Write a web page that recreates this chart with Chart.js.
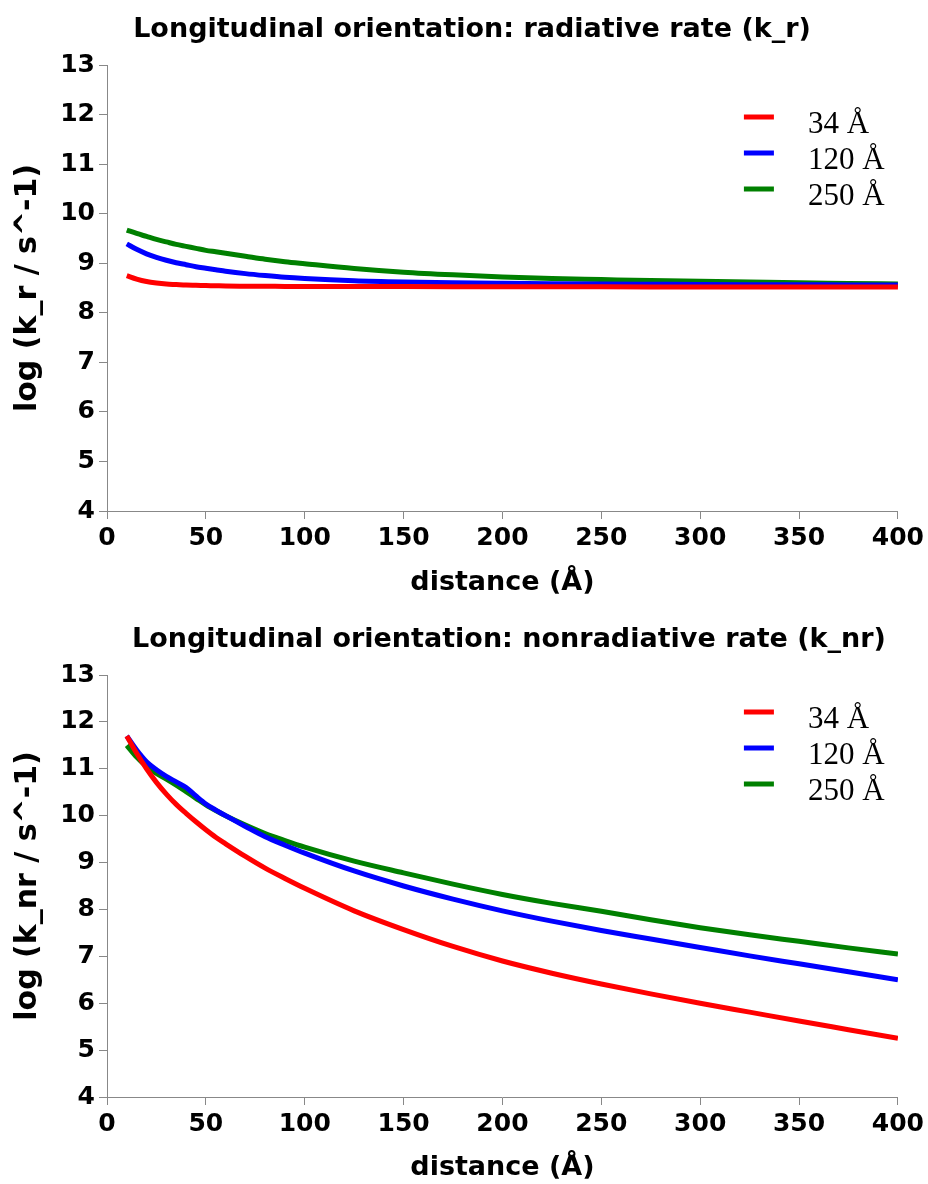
<!DOCTYPE html>
<html>
<head>
<meta charset="utf-8">
<script src="https://cdn.jsdelivr.net/npm/chart.js@4.4.1/dist/chart.umd.min.js"></script>
<style>
  html, body { margin: 0; padding: 0; background: #fff; }
  canvas { display: block; }
</style>
</head>
<body>
<div style="width:928px;height:600px"><canvas id="c1" width="928" height="600"></canvas></div>
<div style="width:928px;height:584px"><canvas id="c2" width="928" height="584"></canvas></div>
<script>
// ---- data ----
const distances = [10, 15, 20, 25, 30, 35, 40, 45, 50, 55, 60, 70, 80, 90, 100, 125, 150, 175, 200, 225, 250, 275, 300, 325, 350, 375, 400];
const seriesLabels = ['34 Å', '120 Å', '250 Å'];
const seriesColors = ['#ff0000', '#0000ff', '#008000'];

// radiative rate, log(k_r)
const kr34  = [8.75, 8.68, 8.63, 8.60, 8.58, 8.57, 8.56, 8.555, 8.55, 8.545, 8.54, 8.537, 8.535, 8.532, 8.53, 8.53, 8.528, 8.526, 8.525, 8.524, 8.523, 8.522, 8.521, 8.52, 8.52, 8.52, 8.52];
const kr120 = [9.39, 9.28, 9.19, 9.12, 9.06, 9.01, 8.97, 8.93, 8.90, 8.87, 8.84, 8.79, 8.75, 8.715, 8.69, 8.645, 8.62, 8.605, 8.595, 8.587, 8.58, 8.575, 8.57, 8.567, 8.565, 8.562, 8.56];
const kr250 = [9.67, 9.60, 9.54, 9.48, 9.43, 9.38, 9.34, 9.30, 9.26, 9.23, 9.20, 9.14, 9.08, 9.03, 8.99, 8.895, 8.82, 8.765, 8.72, 8.69, 8.67, 8.65, 8.635, 8.62, 8.605, 8.593, 8.58];

// nonradiative rate, log(k_nr)
const knr34  = [11.70, 11.33, 11.00, 10.71, 10.46, 10.24, 10.05, 9.87, 9.70, 9.54, 9.40, 9.13, 8.88, 8.66, 8.45, 7.97, 7.57, 7.21, 6.90, 6.64, 6.41, 6.20, 6.00, 5.81, 5.62, 5.435, 5.25];
const knr120 = [11.70, 11.40, 11.15, 10.98, 10.84, 10.72, 10.60, 10.42, 10.25, 10.12, 10.00, 9.77, 9.55, 9.37, 9.20, 8.82, 8.50, 8.22, 7.97, 7.75, 7.55, 7.37, 7.19, 7.01, 6.84, 6.67, 6.50];
const knr250 = [11.50, 11.25, 11.05, 10.90, 10.78, 10.65, 10.51, 10.37, 10.23, 10.11, 10.00, 9.80, 9.62, 9.47, 9.33, 9.03, 8.78, 8.54, 8.32, 8.13, 7.96, 7.78, 7.61, 7.46, 7.32, 7.18, 7.05];

const xTicks = [0, 50, 100, 150, 200, 250, 300, 350, 400];
const yTicks = [4, 5, 6, 7, 8, 9, 10, 11, 12, 13];

const titles = ['Longitudinal orientation: radiative rate (k_r)', 'Longitudinal orientation: nonradiative rate (k_nr)'];
const yTitles = ['log (k_r / s^-1)', 'log (k_nr / s^-1)'];
const xTitle = 'distance (Å)';

// ---- chart title drawn at a given centre ----
const topTitle = {
  id: 'topTitle',
  afterDraw(chart, args, opts) {
    const ctx = chart.ctx;
    ctx.save();
    ctx.fillStyle = '#000';
    ctx.font = 'bold 27px "DejaVu Sans"';
    ctx.textAlign = 'center';
    ctx.textBaseline = 'middle';
    ctx.fillText(opts.text, opts.cx, opts.cy);
    ctx.restore();
  }
};

// ---- legend drawn inside chart area ----
const innerLegend = {
  id: 'innerLegend',
  afterDatasetsDraw(chart, args, opts) {
    const ctx = chart.ctx;
    const a = chart.chartArea;
    ctx.save();
    chart.data.datasets.forEach((ds, i) => {
      const y = a.top + opts.top + i * 36;
      ctx.strokeStyle = ds.borderColor;
      ctx.lineWidth = 5;
      ctx.beginPath();
      ctx.moveTo(a.right - 154, y);
      ctx.lineTo(a.right - 124, y);
      ctx.stroke();
      ctx.fillStyle = '#000';
      ctx.font = '31px "Liberation Serif", "Times New Roman", serif';
      ctx.textBaseline = 'alphabetic';
      ctx.textAlign = 'left';
      ctx.fillText(ds.label, a.right - 90, y + 16);
    });
    ctx.restore();
  }
};

function makeChart(id, series, title, yTitle, o) {
  const datasets = series.map((vals, i) => ({
    label: seriesLabels[i],
    data: distances.map((d, j) => ({ x: d, y: vals[j] })),
    borderColor: seriesColors[i],
    backgroundColor: seriesColors[i],
    borderWidth: 5,
    pointRadius: 0,
    cubicInterpolationMode: 'monotone',
    fill: false
  }));
  const tickFont = { family: 'DejaVu Sans', weight: 'bold', size: 25 };
  return new Chart(document.getElementById(id), {
    type: 'line',
    data: { datasets },
    plugins: [innerLegend, topTitle],
    options: {
      responsive: false,
      animation: false,
      layout: { padding: { left: 0, right: 30, top: o.top, bottom: 0 } },
      plugins: {
        legend: { display: false },
        tooltip: { enabled: false },
        title: { display: false },
        topTitle: { text: title, cx: o.titleX, cy: o.titleY },
        innerLegend: { top: o.legendTop }
      },
      scales: {
        x: {
          type: 'linear',
          min: 0, max: 400,
          afterBuildTicks: s => { s.ticks = xTicks.map(v => ({ value: v })); },
          afterFit: s => { s.height = o.xHeight; },
          ticks: { color: '#000', font: tickFont, padding: 4, maxRotation: 0 },
          grid: { drawOnChartArea: false, drawTicks: true, tickLength: 8, color: '#888', lineWidth: 1 },
          border: { color: '#888', width: 1 },
          title: { display: true, text: xTitle, color: '#000', font: { family: 'DejaVu Sans', weight: 'bold', size: 27 }, padding: { top: 0, bottom: o.xTitlePad } }
        },
        y: {
          min: 4, max: 13,
          afterBuildTicks: s => { s.ticks = yTicks.map(v => ({ value: v })); },
          afterFit: s => { s.width = 107; s.paddingTop = 0; s.paddingBottom = 0; },
          ticks: { color: '#000', font: tickFont, padding: 4 },
          grid: { drawOnChartArea: false, drawTicks: true, tickLength: 8, color: '#888', lineWidth: 1 },
          border: { color: '#888', width: 1 },
          title: { display: true, text: yTitle, color: '#000', font: { family: 'DejaVu Sans', weight: 'bold', size: 30 }, padding: { top: 10, bottom: 0 } }
        }
      }
    }
  });
}

makeChart('c1', [kr34, kr120, kr250], titles[0], yTitles[0],
  { top: 65, xHeight: 89, titleX: 472, titleY: 30, legendTop: 52, xTitlePad: 1 });
makeChart('c2', [knr34, knr120, knr250], titles[1], yTitles[1],
  { top: 75, xHeight: 87, titleX: 509, titleY: 40, legendTop: 37, xTitlePad: 0 });
</script>
</body>
</html>
